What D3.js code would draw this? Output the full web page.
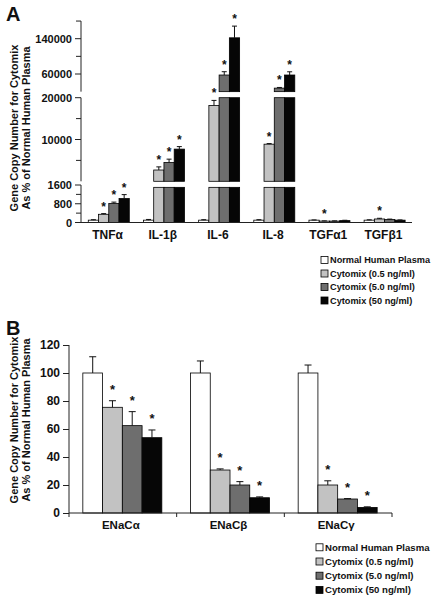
<!DOCTYPE html>
<html><head><meta charset="utf-8">
<script src="https://cdn.jsdelivr.net/npm/d3@7"></script>
<style>
html,body{margin:0;padding:0;background:#fff;}
svg{display:block;font-family:"Liberation Sans",Arial,sans-serif;font-weight:bold;}
</style></head><body>
<svg id="chart" width="433" height="600"></svg>
<script>
// ---------- data ----------
const seriesNames = ["Normal Human Plasma","Cytomix (0.5 ng/ml)","Cytomix (5.0 ng/ml)","Cytomix (50 ng/ml)"];
const seriesColors = ["#ffffff","#c2c2c2","#6e6e6e","#060606"];

const categoriesA = ["TNF\u03b1","IL-1\u03b2","IL-6","IL-8","TGF\u03b11","TGF\u03b21"];
const normalA  = [100, 100, 100, 100, 100, 100];
const cyto05A  = [350, 2700, 18150, 8880, 60, 150];
const cyto5A   = [810, 4500, 57700, 28000, 60, 130];
const cyto50A  = [1020, 7700, 142000, 57700, 80, 100];
const errNormalA = [20, 30, 20, 20, 10, 15];
const err05A   = [30, 750, 1200, 150, 10, 30];
const err5A    = [60, 800, 7500, 1500, 10, 15];
const err50A   = [170, 600, 26500, 7300, 15, 10];
const sigA     = [[0,1,1,1],[0,1,1,1],[0,1,1,1],[0,1,1,1],[0,1,0,0],[0,1,0,0]];
const tickLabelsA = [[0, 800, 1600], [10000, 20000], [60000, 140000]];
const minorTicksA = [[400, 1200], [5000, 15000], [100000, 180000]];

const categoriesB = ["ENaC\u03b1","ENaC\u03b2","ENaC\u03b3"];
const normalB  = [100, 100, 100];
const cyto05B  = [75.5, 30.7, 20];
const cyto5B   = [62.4, 20, 10];
const cyto50B  = [53.8, 10.9, 4];
const errNormalB = [11.6, 8.6, 5.7];
const err05B   = [4.7, 0.8, 3];
const err5B    = [10, 2.4, 0.3];
const err50B   = [5.5, 0.6, 0.4];
const sigB     = [[0,1,1,1],[0,1,1,1],[0,1,1,1]];
const tickLabelsB = [0, 20, 40, 60, 80, 100, 120];

const yTitle1 = "Gene Copy Number for Cytomix";
const yTitle2 = "As % of Normal Human Plasma";

// ---------- helpers ----------
const svg = d3.select("#chart");
const valsA = [normalA, cyto05A, cyto5A, cyto50A];
const errsA = [errNormalA, err05A, err5A, err50A];
const valsB = [normalB, cyto05B, cyto5B, cyto50B];
const errsB = [errNormalB, err05B, err5B, err50B];

function legend(g, x, y, step, fs) {
  seriesNames.forEach((n, i) => {
    g.append("rect").attr("x", x).attr("y", y + i*step - 3.5).attr("width", 7).attr("height", 7)
      .attr("fill", seriesColors[i]).attr("stroke", "#000").attr("stroke-width", 0.8);
    g.append("text").attr("x", x + 9).attr("y", y + i*step + 3.3).attr("font-size", fs)
      .attr("fill", "#111").text(n);
  });
}
function yTitle(cy) {
  svg.append("text").attr("transform", `translate(18,${cy}) rotate(-90)`).attr("text-anchor","middle")
    .attr("font-size", 11).attr("fill","#111").text(yTitle1);
  svg.append("text").attr("transform", `translate(30,${cy}) rotate(-90)`).attr("text-anchor","middle")
    .attr("font-size", 11).attr("fill","#111").text(yTitle2);
}

// ---------- Panel A ----------
const axA = 81;
const xA = d3.scaleBand().domain(categoriesA).range([81, 412]).paddingInner(0).paddingOuter(0);
const bwA = xA.bandwidth();
const subA = d3.scaleBand().domain(d3.range(4)).range([bwA/2 - 20.3, bwA/2 + 20.7]).padding(0);

const segs = [
  {domain:[0,1600], range:[222.5,185], barMax:1500},
  {domain:[0,20000], range:[181.3,97.7], barMax:20000},
  {domain:[20000,180000], range:[91.65,21.05], barMax:180000}
].map(s => ({...s, y: d3.scaleLinear().domain(s.domain).range(s.range)}));

svg.append("text").attr("x", 6).attr("y", 21).attr("font-size", 20).attr("fill","#111").text("A");

const gA = svg.append("g");
// bars by segment
segs.forEach((s, si) => {
  const lower = si === 0 ? -Infinity : segs[si-1].domain[1];
  categoriesA.forEach((c, ci) => {
    valsA.forEach((arr, k) => {
      const v = arr[ci];
      if (v <= lower) return;
      const y0 = s.range[0];
      const y1 = s.y(Math.min(v, s.barMax));
      gA.append("rect").attr("x", xA(c) + subA(k)).attr("width", subA.bandwidth())
        .attr("y", y1).attr("height", Math.max(0, y0 - y1))
        .attr("fill", seriesColors[k]).attr("stroke", "#000").attr("stroke-width", 0.8);
    });
  });
});
// error bars and stars
categoriesA.forEach((c, ci) => {
  valsA.forEach((arr, k) => {
    const v = arr[ci], e = errsA[k][ci];
    const s = segs.find(sg => v <= sg.domain[1]);
    const cx = xA(c) + subA(k) + subA.bandwidth()/2;
    const yv = s.y(v), ye = s.y(v + e);
    gA.append("line").attr("x1", cx).attr("x2", cx).attr("y1", yv).attr("y2", ye).attr("stroke","#111").attr("stroke-width",1);
    gA.append("line").attr("x1", cx-2.5).attr("x2", cx+2.5).attr("y1", ye).attr("y2", ye).attr("stroke","#111").attr("stroke-width",1);
    if (sigA[ci][k]) {
      gA.append("text").attr("x", cx).attr("y", ye - 3).attr("text-anchor","middle")
        .attr("font-size", 12).attr("fill","#111").text("*");
    }
  });
});
// broken y-axis
segs.forEach((s, si) => {
  gA.append("line").attr("x1", axA).attr("x2", axA).attr("y1", s.range[0]).attr("y2", s.range[1])
    .attr("stroke","#222").attr("stroke-width",1);
  tickLabelsA[si].forEach(t => {
    gA.append("line").attr("x1", axA-6).attr("x2", axA).attr("y1", s.y(t)).attr("y2", s.y(t)).attr("stroke","#222");
    gA.append("text").attr("x", axA-9).attr("y", s.y(t) + 4).attr("text-anchor","end")
      .attr("font-size", 11).attr("fill","#111").text(d3.format("d")(t));
  });
  minorTicksA[si].forEach(t => {
    gA.append("line").attr("x1", axA-5).attr("x2", axA).attr("y1", s.y(t)).attr("y2", s.y(t)).attr("stroke","#222");
  });
});
// x-axis A
gA.append("line").attr("x1", axA).attr("x2", 412).attr("y1", 222.5).attr("y2", 222.5).attr("stroke","#222");
categoriesA.forEach(c => {
  gA.append("text").attr("x", xA(c) + bwA/2 - 1).attr("y", 238.5).attr("text-anchor","middle")
    .attr("font-size", 12).attr("fill","#111").text(c);
});
yTitle(128);
legend(svg.append("g"), 321, 260, 13.5, 9.2);

// ---------- Panel B ----------
svg.append("text").attr("x", 6).attr("y", 335).attr("font-size", 20).attr("fill","#111").text("B");
const axB = 69;
const xB = d3.scaleBand().domain(categoriesB).range([69, 392]).paddingInner(0).paddingOuter(0);
const bwB = xB.bandwidth();
const subB = d3.scaleBand().domain(d3.range(4)).range([bwB/2 - 40, bwB/2 + 39]).padding(0);
const yB = d3.scaleLinear().domain([0, 120]).range([513, 345]);
const gB = svg.append("g");
categoriesB.forEach((c, ci) => {
  valsB.forEach((arr, k) => {
    const v = arr[ci], e = errsB[k][ci];
    const x = xB(c) + subB(k), cx = x + subB.bandwidth()/2;
    gB.append("rect").attr("x", x).attr("width", subB.bandwidth()).attr("y", yB(v)).attr("height", yB(0) - yB(v))
      .attr("fill", seriesColors[k]).attr("stroke","#000").attr("stroke-width",0.8);
    const ye = yB(v + e);
    gB.append("line").attr("x1", cx).attr("x2", cx).attr("y1", yB(v)).attr("y2", ye).attr("stroke","#111");
    gB.append("line").attr("x1", cx-3.5).attr("x2", cx+3.5).attr("y1", ye).attr("y2", ye).attr("stroke","#111");
    if (sigB[ci][k]) {
      gB.append("text").attr("x", cx).attr("y", ye - 7).attr("text-anchor","middle")
        .attr("font-size", 13).attr("fill","#111").text("*");
    }
  });
});
const yAxisB = d3.axisLeft(yB).tickValues(tickLabelsB).tickSize(6).tickPadding(3).tickFormat(d3.format("d"));
const gyB = gB.append("g").attr("transform", `translate(${axB},0)`).call(yAxisB);
gyB.select(".domain").attr("d", `M0,${yB(120)}V${yB(0)}`).attr("stroke","#222");
gyB.selectAll(".tick line").attr("stroke","#222");
gyB.selectAll(".tick text").attr("font-size", 12).attr("font-family", "Liberation Sans, Arial, sans-serif")
  .attr("font-weight","bold").attr("fill","#111");
gB.append("line").attr("x1", axB).attr("x2", 392).attr("y1", 513).attr("y2", 513).attr("stroke","#222");
[...categoriesB.map(c => xB(c)), 392].forEach(x => {
  gB.append("line").attr("x1", x).attr("x2", x).attr("y1", 513).attr("y2", 517).attr("stroke","#222");
});
categoriesB.forEach(c => {
  gB.append("text").attr("x", xB(c) + bwB/2 - 2).attr("y", 529).attr("text-anchor","middle")
    .attr("font-size", 11.5).attr("fill","#111").text(c);
});
yTitle(420);
legend(svg.append("g"), 316, 547.3, 14.2, 9.6);
</script>
</body></html>
